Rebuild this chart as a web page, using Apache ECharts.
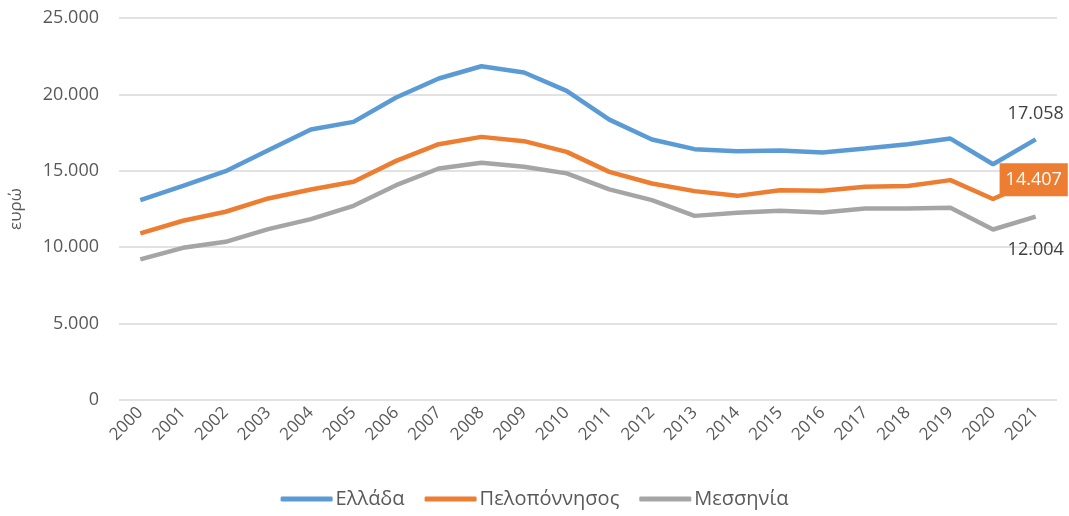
<!DOCTYPE html>
<html>
<head>
<meta charset="utf-8">
<script src="https://cdn.jsdelivr.net/npm/echarts@6/dist/echarts.min.js"></script>
<style>
  html, body { margin: 0; padding: 0; background: #fff; }
  #chart { width: 1069px; height: 516px; }
</style>
</head>
<body>
<div id="chart"></div>
<script>
// έτη
const years = ['2000', '2001', '2002', '2003', '2004', '2005', '2006', '2007', '2008', '2009', '2010',
  '2011', '2012', '2013', '2014', '2015', '2016', '2017', '2018', '2019', '2020', '2021']

const ellada = [13080, 14015, 14977, 16350, 17700, 18200, 19800, 21040, 21840, 21430, 20230,
  18350, 17050, 16415, 16285, 16330, 16200, 16460, 16740, 17110, 15430, 17058]
const peloponnisos = [10900, 11730, 12320, 13190, 13780, 14280, 15650, 16740, 17220, 16940, 16240,
  14930, 14170, 13670, 13360, 13730, 13690, 13950, 14000, 14390, 13150, 14407]
const messinia = [9200, 9960, 10350, 11180, 11840, 12710, 14060, 15150, 15520, 15260, 14830,
  13780, 13080, 12050, 12250, 12380, 12270, 12530, 12530, 12580, 11160, 12004]

const yTicks = [0, 5000, 10000, 15000, 20000, 25000]

// 12345 -> "12.345"
function fmt(v) {
  return String(Math.round(v)).replace(/\B(?=(\d{3})+(?!\d))/g, '.')
}

const font = 'Open Sans, Noto Sans, sans-serif'
const textColor = '#595959'

// μόνο η τελευταία τιμή έχει ετικέτα
function lastLabel(data, label) {
  return data.map((v, i) => i === data.length - 1 ? { value: v, label: Object.assign({ show: true }, label) } : v)
}

const chart = echarts.init(document.getElementById('chart'))
chart.setOption({
  animation: false,
  textStyle: { fontFamily: font },
  grid: { left: 116, right: 12, top: 18, bottom: 116, containLabel: false },
  legend: {
    bottom: 2,
    left: 'center',
    icon: 'roundRect',
    itemWidth: 52,
    itemHeight: 5,
    itemGap: 20,
    textStyle: { color: textColor, fontSize: 20, fontFamily: font, padding: [0, 0, 0, -2] },
    data: ['Ελλάδα', 'Πελοπόννησος', 'Μεσσηνία']
  },
  xAxis: {
    type: 'category',
    data: years,
    boundaryGap: true,
    axisLine: { show: false },
    axisTick: { show: false },
    axisLabel: {
      color: textColor, fontSize: 17, rotate: 45, interval: 0, margin: 10, fontFamily: font
    }
  },
  yAxis: {
    type: 'value',
    min: yTicks[0],
    max: yTicks[yTicks.length - 1],
    interval: 5000,
    name: 'ευρώ',
    nameLocation: 'middle',
    nameRotate: 90,
    nameGap: 94,
    nameTextStyle: { color: textColor, fontSize: 17, fontFamily: font },
    axisLine: { show: false },
    axisTick: { show: false },
    axisLabel: { color: textColor, fontSize: 18, margin: 20, formatter: fmt, fontFamily: font },
    splitLine: { lineStyle: { color: '#d9d9d9', width: 1.5 } }
  },
  series: [
    {
      name: 'Ελλάδα',
      type: 'line',
      data: lastLabel(ellada, {
        position: 'top', distance: 16, color: '#404040', fontSize: 18, formatter: p => fmt(p.value)
      }),
      symbol: 'circle',
      symbolSize: 0,
      lineStyle: { width: 4.5, color: '#5B9BD5' },
      itemStyle: { color: '#5B9BD5' }
    },
    {
      name: 'Πελοπόννησος',
      type: 'line',
      data: lastLabel(peloponnisos, {
        position: 'inside', color: '#fff', fontSize: 18, backgroundColor: '#ED7D31',
        padding: [8, 6, 7, 6], offset: [-2, 0], formatter: p => fmt(p.value)
      }),
      symbol: 'circle',
      symbolSize: 0,
      lineStyle: { width: 4.5, color: '#ED7D31' },
      itemStyle: { color: '#ED7D31' }
    },
    {
      name: 'Μεσσηνία',
      type: 'line',
      data: lastLabel(messinia, {
        position: 'bottom', distance: 24, color: '#404040', fontSize: 18, formatter: p => fmt(p.value)
      }),
      symbol: 'circle',
      symbolSize: 0,
      lineStyle: { width: 4.5, color: '#A5A5A5' },
      itemStyle: { color: '#A5A5A5' }
    }
  ]
})
</script>
</body>
</html>
